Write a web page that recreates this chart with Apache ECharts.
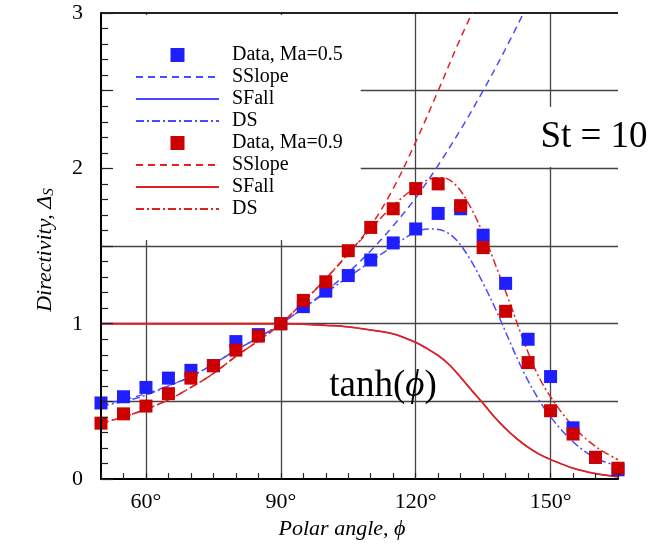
<!DOCTYPE html>
<html>
<head>
<meta charset="utf-8">
<script src="https://cdn.jsdelivr.net/npm/echarts@6/dist/echarts.min.js"></script>
<style>html,body{margin:0;padding:0;background:#fff;}#c{width:654px;height:545px;}</style>
</head>
<body>
<div id="c"></div>
<script>
// ---- data ----
const phi = [50,55,60,65,70,75,80,85,90,95,100,105,110,115,120,125,130,135,140,145,150,155,160,165];
const dataMa05 = [0.49,0.53,0.59,0.65,0.70,0.73,0.885,0.93,1.00,1.11,1.21,1.31,1.41,1.52,1.61,1.71,1.74,1.57,1.26,0.90,0.66,0.33,0.14,0.06];
const dataMa09 = [0.36,0.42,0.47,0.55,0.65,0.73,0.83,0.92,1.00,1.15,1.27,1.47,1.62,1.74,1.87,1.90,1.76,1.49,1.08,0.75,0.44,0.29,0.14,0.07];

const dsPhi = [50,55,60,65,70,75,80,85,90,95,100,105,110,115,120,123,126,129,132,135,138,141,144,147,150,155,160,165];
const ds05 = [0.47,0.50,0.54,0.60,0.66,0.74,0.83,0.91,1.00,1.10,1.20,1.30,1.40,1.50,1.59,1.61,1.60,1.54,1.42,1.26,1.08,0.88,0.69,0.53,0.40,0.24,0.135,0.085];
const ds09 = [0.36,0.40,0.45,0.51,0.59,0.68,0.79,0.89,1.00,1.14,1.29,1.45,1.61,1.76,1.88,1.93,1.94,1.89,1.76,1.58,1.36,1.13,0.89,0.68,0.53,0.34,0.21,0.125];

const ss05Phi = [50,55,60,65,70,75,80,85,90,95,100,105,110,115,120,125,130,135,140,145];
const ss05 = [0.48,0.51,0.55,0.60,0.66,0.74,0.83,0.91,1.00,1.10,1.21,1.33,1.47,1.63,1.81,2.02,2.25,2.50,2.77,3.06];
const ss09Phi = [50,55,60,65,70,75,80,85,90,95,100,105,110,115,120,125,130,135];
const ss09 = [0.36,0.40,0.45,0.51,0.59,0.68,0.79,0.89,1.00,1.14,1.29,1.45,1.63,1.87,2.17,2.50,2.84,3.15];

const sfPhi = [50,60,70,80,90,95,100,105,110,115,120,122.5,125,127.5,130,132.5,135,137.5,140,142.5,145,147.5,150,155,160,165];
const sf = [1,1,1,1,1,0.998,0.99,0.98,0.96,0.935,0.88,0.84,0.795,0.735,0.655,0.57,0.487,0.40,0.325,0.26,0.205,0.16,0.126,0.07,0.035,0.015];

const xMajor = [60,90,120,150];
const yGridLines = [0.5,1,1.5,2,2.5,3];

// ---- styling ----
const SERIF = "'Liberation Serif','Times New Roman',serif";
const BLUE_PT = '#1e1eff', RED_PT = '#cc0000';
const BLUE_LN = '#4a4aff', RED_LN = '#e02222';
const DASH = [7,5], DASHDOT = [8,3,2,3];
const SQUARE = 'path://M0,0L10,0L10,10L0,10Z';

const pairs = (xs, ys) => xs.map((x,i)=>[x, ys[i]]);

const lineSeries = (name, xs, ys, color, type, width, z) => ({
  name, type:'line', data: pairs(xs, ys), symbol:'none', smooth:0.35,
  lineStyle:{color, width, type}, itemStyle:{color}, z, silent:true
});
const lineLegend = name => ({name, itemStyle:{opacity:0}});

const chart = echarts.init(document.getElementById('c'), null, {renderer:'canvas'});
chart.setOption({
  animation:false,
  grid:{left:101, right:36, top:13, bottom:62, containLabel:false},
  xAxis:{
    type:'value', min:50, max:165, interval:5, z:6,
    axisLine:{show:true, lineStyle:{color:'#000', width:2}},
    axisTick:{show:true, inside:true, length:6, lineStyle:{color:'#222', width:1.2}},
    splitLine:{show:false},
    axisLabel:{
      formatter:v => xMajor.indexOf(v) >= 0 ? v + '°' : '',
      fontFamily:SERIF, fontSize:22, color:'#000', margin:12
    },
    name:'Polar angle, ϕ', nameLocation:'middle', nameGap:38,
    nameTextStyle:{fontFamily:SERIF, fontSize:22, fontStyle:'italic', color:'#000', padding:[0,35,0,0]}
  },
  yAxis:{
    type:'value', min:0, max:3, interval:0.5, z:6,
    axisLine:{show:true, lineStyle:{color:'#000', width:2}},
    axisTick:{show:true, inside:true, length:12, lineStyle:{color:'#222', width:1.2}},
    minorTick:{show:true, splitNumber:5, length:7, lineStyle:{color:'#222', width:1.2}},
    splitLine:{show:false},
    axisLabel:{
      formatter:v => Number.isInteger(v) ? String(v) : '',
      fontFamily:SERIF, fontSize:22, color:'#000', margin:18
    },
    name:'{t|Directivity, Δ}{s|S}', nameLocation:'middle', nameGap:44,
    nameTextStyle:{
      fontFamily:SERIF, fontSize:22, fontStyle:'italic', color:'#000', padding:[0,8,0,0],
      rich:{
        t:{fontFamily:SERIF, fontSize:22, fontStyle:'italic', color:'#000'},
        s:{fontFamily:SERIF, fontSize:15, fontStyle:'italic', color:'#000', verticalAlign:'bottom', padding:[8,0,0,0]}
      }
    }
  },
  legend:{
    show:true, orient:'vertical', left:103, top:15, z:5,
    backgroundColor:'#fff', padding:[30,18,21,32],
    itemWidth:83, itemHeight:14, itemGap:2, selectedMode:false,
    symbolKeepAspect:true,
    textStyle:{fontFamily:SERIF, fontSize:20, color:'#000', lineHeight:20, padding:[0,0,0,8]},
    formatter:n => n.replace(/#\d$/, ''),
    data:[
      {name:'Data, Ma=0.5', icon:SQUARE}, lineLegend('SSlope#1'), lineLegend('SFall#1'), lineLegend('DS#1'),
      {name:'Data, Ma=0.9', icon:SQUARE}, lineLegend('SSlope#2'), lineLegend('SFall#2'), lineLegend('DS#2')
    ]
  },
  graphic:[
    {type:'rect', z:100, shape:{x:530, y:107, width:124, height:60}, style:{fill:'#fff'}},
    {type:'text', z:101, x:594, y:137, style:{text:'St = 10', font:'37px '+SERIF, fill:'#000', align:'center', verticalAlign:'middle'}},
    {type:'text', z:101, x:383, y:386, style:{
      text:'{n|tanh(}{i|ϕ}{n|)}', align:'center', verticalAlign:'middle',
      rich:{
        n:{fontFamily:SERIF, fontSize:37, fill:'#000'},
        i:{fontFamily:SERIF, fontSize:37, fontStyle:'italic', fill:'#000'}
      }
    }}
  ],
  series:[
    {
      name:'grid', type:'line', data:[], z:1, silent:true,
      markLine:{
        z:1, silent:true, symbol:['none','none'], label:{show:false},
        animation:false,
        lineStyle:{color:'#444', width:1.3, type:'solid'},
        emphasis:{disabled:true},
        data: xMajor.map(v=>({xAxis:v})).concat(yGridLines.map(v=>({yAxis:v, lineStyle:{color: v===3 ? '#222' : '#444', width: v===3 ? 2 : 1.3}})))
      }
    },
    lineSeries('SFall#1', sfPhi, sf, BLUE_LN, 'solid', 1.2, 2),
    lineSeries('SSlope#1', ss05Phi, ss05, BLUE_LN, DASH, 1.5, 3),
    lineSeries('DS#1', dsPhi, ds05, BLUE_LN, DASHDOT, 1.5, 3),
    lineSeries('SFall#2', sfPhi, sf, RED_LN, 'solid', 1.8, 3),
    lineSeries('SSlope#2', ss09Phi, ss09, RED_LN, DASH, 1.5, 3),
    lineSeries('DS#2', dsPhi, ds09, RED_LN, DASHDOT, 1.5, 3),
    {
      name:'Data, Ma=0.5', type:'scatter', data:pairs(phi, dataMa05), symbol:'rect', symbolSize:13,
      itemStyle:{color:BLUE_PT, opacity:1}, z:4, clip:false, silent:true
    },
    {
      name:'Data, Ma=0.9', type:'scatter', data:pairs(phi, dataMa09), symbol:'rect', symbolSize:13,
      itemStyle:{color:RED_PT, opacity:1}, z:5, clip:false, silent:true
    }
  ]
});
</script>
</body>
</html>
